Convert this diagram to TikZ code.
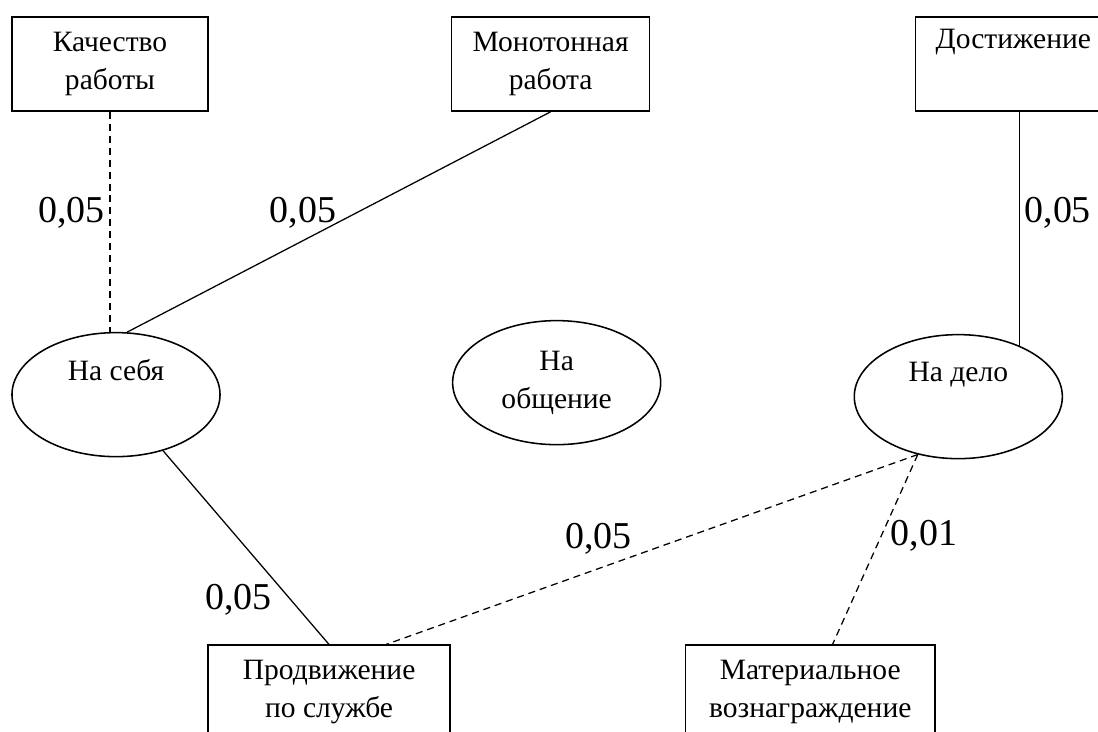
\documentclass[tikz,border=0pt]{standalone}
\usepackage{fontspec}
\setmainfont{Liberation Serif}
\usepackage{tikz}
\usetikzlibrary{shapes.geometric, positioning}
\newcommand\factfont{\fontsize{21}{27}\selectfont}
\newcommand\coeffont{\fontsize{27}{31}\selectfont}
\tikzset{
  factbox/.style={rectangle, draw=black, line width=1.1pt, minimum height=2.35cm,
                  align=center, font=\factfont, inner sep=0pt},
  motive/.style={ellipse, draw=black, line width=1.1pt, minimum width=5.2cm,
                 minimum height=3.1cm, align=center, font=\factfont, inner sep=0pt},
  link/.style={line width=0.9pt},
  weak/.style={link, dash pattern=on 5pt off 3.5pt},
  coef/.style={font=\coeffont},
}
\begin{document}
\begin{tikzpicture}[x=0.025cm, y=-0.025cm]
    \clip (0,0) rectangle (1098,731);
    % factors (top row)
    \node[factbox, minimum width=4.9cm] (kach) at (110,64) {Качество\\работы};
    \node[factbox, minimum width=4.95cm, right=6.05cm of kach] (monot) {Монотонная\\работа};
    \node[factbox, minimum width=4.9cm, right=6.6cm of monot] (dost) {Достижение\\\strut};
    % orientations
    \node[motive, below=5.5cm of kach, xshift=0.15cm] (sebya) {На себя\\\strut};
    \node[motive, below=5.2cm of monot, xshift=0.15cm] (obsch) {На\\общение};
    \node[motive, below=5.55cm of dost, xshift=-1.375cm] (delo) {На дело\\\strut};
    % factors (bottom row)
    \node[factbox, minimum width=6.05cm, below=4.675cm of sebya, xshift=5.325cm] (prod) {Продвижение\\по службе};
    \node[factbox, minimum width=6.225cm, right=5.85cm of prod] (mater) {Материальное\\вознаграждение};
    % links
    \draw[weak] (kach.south) -- node[coef, left, pos=0.46]{0,05} (kach.south |- sebya.north);
    \draw[link] (monot.south) -- node[coef, left=10pt, pos=0.46]{0,05} (sebya.80);
    \draw[link] (dost.south -| delo.40) -- node[coef, right, pos=0.43]{0,05} (delo.40);
    \draw[link] (sebya.-50) -- node[coef, left=10pt, pos=0.77]{0,05} (prod.north);
    \draw[weak] (delo.-125) -- node[coef, above=6pt, pos=0.6]{0,05} (prod.40);
    \draw[weak] (delo.-125) -- node[coef, right=3pt, pos=0.43]{0,01} (mater.65);
  \end{tikzpicture}
\end{document}
